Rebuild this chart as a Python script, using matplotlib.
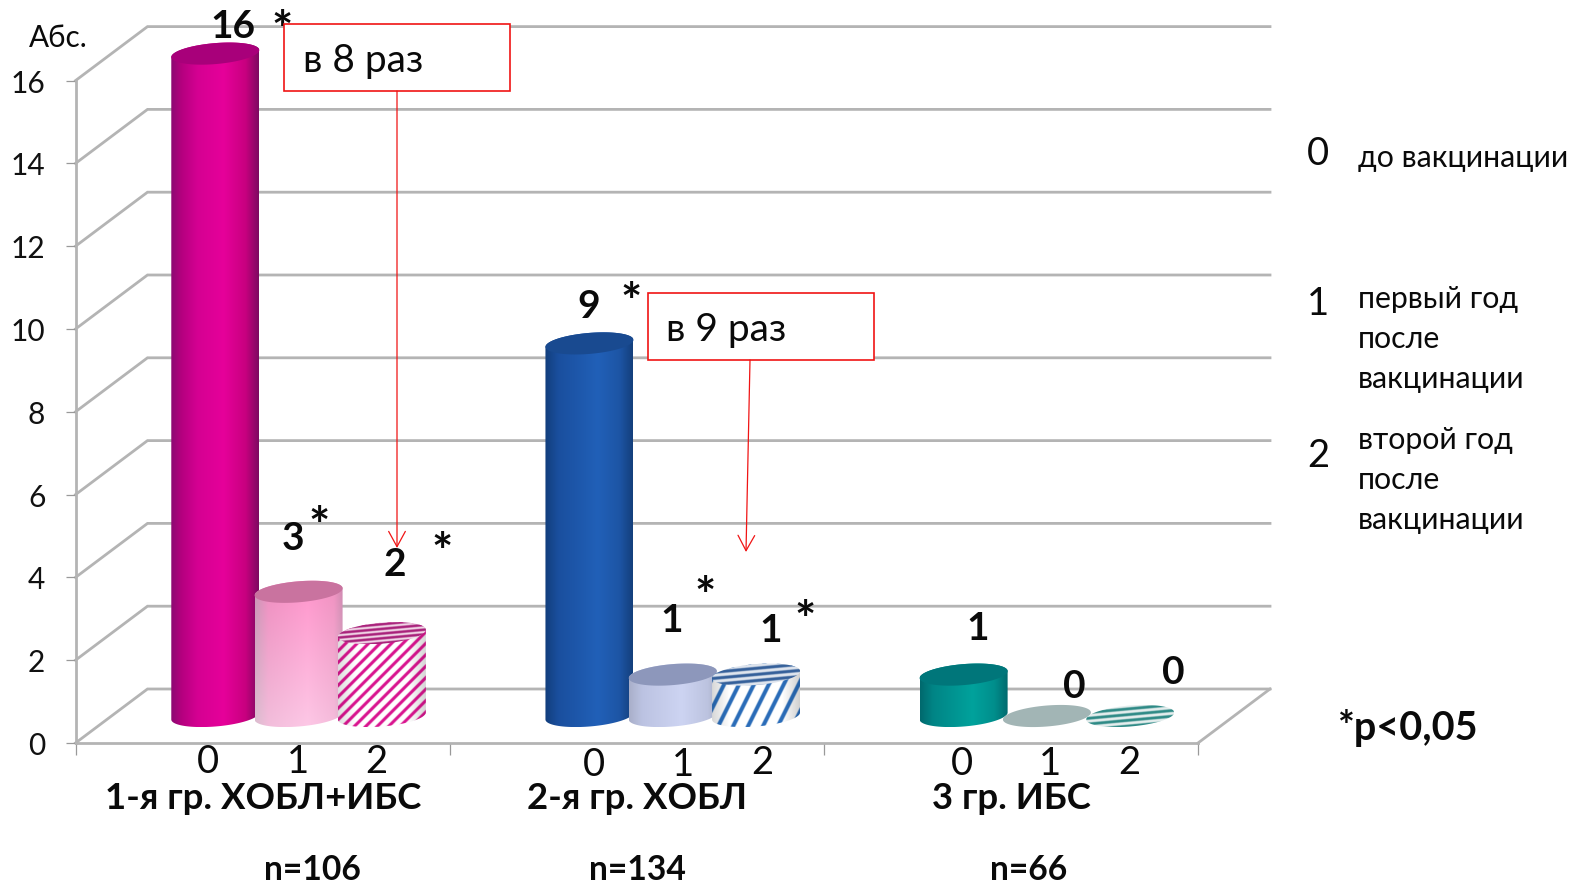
import numpy as np
import matplotlib
matplotlib.use("Agg")
import matplotlib.pyplot as plt
from matplotlib.patches import Polygon, Rectangle, FancyArrowPatch
from matplotlib.transforms import ScaledTranslation

plt.rcParams['font.family'] = ['Lato', 'Noto Sans', 'DejaVu Sans']

# ---------- data ----------
GROUPS = ["1-я гр. ХОБЛ+ИБС", "2-я гр. ХОБЛ", "3 гр. ИБС"]
GROUP_N = ["n=106", "n=134", "n=66"]
PERIODS = ["0", "1", "2"]
BEFORE = [16, 9, 1]
FIRST_YEAR = [3, 1, 0]
SECOND_YEAR = [2, 1, 0]
Y_TICKS = [0, 2, 4, 6, 8, 10, 12, 14, 16]
LEGEND = [("0", ["до вакцинации"]),
          ("1", ["первый год", "после", "вакцинации"]),
          ("2", ["второй год", "после", "вакцинации"])]

W, H = 1578, 885
fig = plt.figure(figsize=(W / 100, H / 100), dpi=100, facecolor='white')

# plot frame: front plane of the 3-D box, with headroom for the back wall
L, R, B = 75.5, 1198, 743
UNIT_PX = 41.4
Y_MAX = 17.8
T = B - Y_MAX * UNIT_PX
ax = fig.add_axes([L / W, (H - B) / H, (R - L) / W, (B - T) / H])
ax.set_xlim(0, 3)
ax.set_ylim(0, Y_MAX)
ax.autoscale(False)
ax.patch.set_visible(False)
PX = 3 / (R - L)
PY = 1 / UNIT_PX
DEPTH_X, DEPTH_Y = 72 * PX, 54 * PY
GRID = '#b4b4b4'
LW = 2.0

for s in ('top', 'right'):
    ax.spines[s].set_visible(False)
for s in ('left', 'bottom'):
    ax.spines[s].set_color(GRID)
    ax.spines[s].set_linewidth(LW)
ax.spines['left'].set_bounds(0, 16)
ax.set_yticks(Y_TICKS)
ax.set_yticklabels([str(v) for v in Y_TICKS], fontsize=21.5, color='#111111')
ax.set_xticks([0, 1, 2, 3])
ax.set_xticklabels([])
ax.tick_params(axis='y', length=7.2, width=0.9, color='#999999', pad=14.5)
ax.tick_params(axis='x', length=8.6, width=0.9, color='#999999')
off = ScaledTranslation(0, -0.5 / 100, fig.dpi_scale_trans)
for lab in ax.get_yticklabels():
    lab.set_transform(lab.get_transform() + off)

# walls
for v in Y_TICKS:
    ax.plot([0, DEPTH_X, 3 + DEPTH_X], [v, v + DEPTH_Y, v + DEPTH_Y], color=GRID,
            lw=LW, clip_on=False, zorder=1, solid_joinstyle='miter')
ax.plot([3, 3 + DEPTH_X], [0, DEPTH_Y], color=GRID, lw=LW, clip_on=False, zorder=1)


def hexrgb(c):
    return np.array(matplotlib.colors.to_rgb(c))


def ramp(stops, n):
    pos = np.array([p for p, _ in stops])
    cols = np.array([hexrgb(c) for _, c in stops])
    u = np.linspace(0, 1, n)
    return np.stack([np.interp(u, pos, cols[:, i]) for i in range(3)], axis=1)


RX_PX, RY_PX, TILT_PX = 44, 10.5, 3.5


def ellipse_pts(cx, cy, t):
    return np.column_stack([cx + RX_PX * PX * np.cos(t),
                            cy + (RY_PX * np.sin(t) + TILT_PX * np.cos(t)) * PY])


def image_in(poly_pts, rgb, zorder):
    x0, y0 = poly_pts.min(axis=0)
    x1, y1 = poly_pts.max(axis=0)
    clip = Polygon(poly_pts, closed=True, transform=ax.transData, fc='none', ec='none')
    ax.add_patch(clip)
    im = ax.imshow(rgb, extent=(x0, x1, y0, y1), aspect='auto', origin='upper',
                   interpolation='bilinear', zorder=zorder)
    im.set_clip_path(clip)


def stripe_mask(h, w, wpx, hpx, kx, ky, period, duty):
    xx, yy = np.meshgrid(np.linspace(0, wpx, w), np.linspace(0, hpx, h))
    phase = ((kx * xx + ky * yy) / period) % 1.0
    d = np.abs(phase - 0.5)
    return np.clip((duty / 2 - d) / (0.9 / period) + 0.5, 0, 1)


def cylinder(cx, val, style, zorder):
    base_y = DEPTH_Y / 2
    top_y = val + base_y
    t_front = np.linspace(np.pi, 2 * np.pi, 80)
    t_back = np.linspace(0, np.pi, 80)
    if val > 0:
        low = ellipse_pts(cx, base_y, t_front)
        up = ellipse_pts(cx, top_y, t_back)
        body = np.vstack([low, up])
        hpx = (body[:, 1].max() - body[:, 1].min()) / PY
        n_w, n_h = 176, max(int(hpx * 2), 8)
        top_cols = ramp(style['body'], n_w)
        bot_cols = ramp(style.get('body_low', style['body']), n_w)
        v = np.linspace(0, 1, n_h)[:, None, None]
        rgb = top_cols[None, :, :] * (1 - v) + bot_cols[None, :, :] * v
        if 'stripe' in style:
            kx, ky, per, duty = style['stripe_geom']
            m = stripe_mask(n_h, n_w, 88, hpx, kx, ky, per, duty)[:, :, None]
            rgb = rgb * (1 - m) + hexrgb(style['stripe']) * rgb.mean(axis=2, keepdims=True) ** 0.6 * m
        image_in(body, rgb, zorder)
    t = np.linspace(0, 2 * np.pi, 160)
    face = ellipse_pts(cx, top_y, t)
    cap = style['cap']
    if 'cap_stripe' in style:
        n_w, n_h = 176, 60
        hpx = (face[:, 1].max() - face[:, 1].min()) / PY
        m = stripe_mask(n_h, n_w, 88, hpx, 0.09, 1.0, style['cap_period'], style['cap_duty'])[:, :, None]
        rgb = np.ones((n_h, n_w, 3)) * hexrgb(cap) * (1 - m) + hexrgb(style['cap_stripe']) * m
        image_in(face, rgb, zorder + 0.1)
    else:
        ax.add_patch(Polygon(face, closed=True, fc=cap, ec='none', zorder=zorder + 0.1, clip_on=False))


STYLES = [
    # group 1
    [dict(body=[(0, '#8c0a72'), (.12, '#b5007f'), (.3, '#d50092'), (.6, '#e6009a'), (.85, '#c8007f'), (1, '#7e0a62')],
          cap='#a8007a'),
     dict(body=[(0, '#c993b4'), (.15, '#ef8cbf'), (.6, '#ff94cb'), (.9, '#f090c0'), (1, '#cf88b0')],
          body_low=[(0, '#dcbed0'), (.15, '#f2bedb'), (.6, '#fdc8e6'), (.9, '#f5bddc'), (1, '#dcb6cd')],
          cap='#c9739f'),
     dict(body=[(0, '#dddddd'), (.2, '#ffffff'), (.8, '#ffffff'), (1, '#d5d5d5')],
          stripe='#d9148f', stripe_geom=(1, 1, 11.5, .38),
          cap='#f3dcea', cap_stripe='#a8207a', cap_period=4.6, cap_duty=.55)],
    # group 2
    [dict(body=[(0, '#123e7c'), (.15, '#1a4f9e'), (.6, '#2160b8'), (.85, '#1d55a5'), (1, '#143f7c')],
          cap='#194a90'),
     dict(body=[(0, '#a9afc9'), (.15, '#bcc3e2'), (.6, '#cdd4f2'), (.9, '#bcc3df'), (1, '#a6adc6')],
          cap='#8d97bb'),
     dict(body=[(0, '#d8d8d8'), (.2, '#ffffff'), (.8, '#ffffff'), (1, '#d0d0d0')],
          stripe='#2a6cb8', stripe_geom=(1, .5, 15, .3),
          cap='#dfe5ee', cap_stripe='#35609a', cap_period=6.0, cap_duty=.5)],
    # group 3
    [dict(body=[(0, '#00696d'), (.15, '#008586'), (.6, '#00a29c'), (.85, '#008e8c'), (1, '#006a6e')],
          cap='#00767a'),
     dict(body=[(0, '#a0b4b4'), (1, '#a0b4b4')], cap='#a2b5b5'),
     dict(body=[(0, '#ffffff'), (1, '#ffffff')], cap='#e6eeee',
          cap_stripe='#2e8a86', cap_period=5.6, cap_duty=.5)],
]

SERIES = [BEFORE, FIRST_YEAR, SECOND_YEAR]
SPACING = 83.3 * PX
for g in range(len(GROUPS)):
    for s, series in enumerate(SERIES):
        cx = g + 0.5 + (s - 1) * SPACING + DEPTH_X / 2
        cylinder(cx, series[g], STYLES[g][s], 3 + s + g * 3)

# ---------- overlay in figure pixels ----------
ov = fig.add_axes([0, 0, 1, 1], zorder=10)
ov.set_xlim(0, W)
ov.set_ylim(H, 0)
ov.axis('off')
INK = '#0a0a0a'


def txt(x, y, s, size, weight='normal', ha='center'):
    ov.text(x, y, s, fontsize=size, fontweight=weight, ha=ha, va='center', color=INK)


txt(58, 38, "Абс.", 21.4)

LABEL_POS = [[(233, 26), (293, 539), (394.5, 565)],
             [(589, 307), (672, 621), (771, 631)],
             [(978, 628), (1074, 686), (1173, 673)]]
for g in range(3):
    for s, series in enumerate(SERIES):
        x, y = LABEL_POS[g][s]
        txt(x, y, str(series[g]), 28, 'bold')

for x, y in [(282, 32), (319, 529), (442, 555), (631, 305), (705, 598), (805, 623)]:
    txt(x, y, "*", 36, 'bold')

PERIOD_POS = [[(208, 762), (298, 762), (376, 762)],
              [(594, 765), (683, 765), (762, 763)],
              [(962, 764), (1050, 764), (1129, 763)]]
for g in range(3):
    for s, p in enumerate(PERIODS):
        x, y = PERIOD_POS[g][s]
        txt(x, y, p, 27.5)

for name, n, x, xn in zip(GROUPS, GROUP_N, [263, 637, 1011.5], [312, 637, 1029]):
    txt(x, 798.5, name, 26.3, 'bold')
    txt(xn, 870, n, 24.2, 'bold')

# callouts
RED = '#f01414'
for (x0, y0, x1, y1, label, tx, tail, tip) in [
        (284, 24, 510, 91, "в 8 раз", 303, (397, 91), (397, 548)),
        (648, 293, 874, 360, "в 9 раз", 666, (750, 360), (746, 552))]:
    ov.add_patch(Rectangle((x0, y0), x1 - x0, y1 - y0, fc='white', ec=RED, lw=1.2, zorder=5))
    ov.text(tx, (y0 + y1) / 2 + 3.5, label, fontsize=28, ha='left', va='center', color=INK, zorder=6)
    ov.add_patch(FancyArrowPatch(tail, tip, arrowstyle='->,head_length=11,head_width=6', color=RED,
                                 lw=0.9, shrinkA=0, shrinkB=0, mutation_scale=1, zorder=6))

# legend
for (key, lines), ky, ly in zip(LEGEND, [154, 304, 456], [158, 299, 440]):
    txt(1318, ky, key, 27.5)
    for i, line in enumerate(lines):
        txt(1358, ly + 40 * i, line, 21.8, ha='left')
txt(1338, 728, "*p<0,05", 28.5, 'bold', ha='left')

fig.savefig('out.png', dpi=100, facecolor='white')
